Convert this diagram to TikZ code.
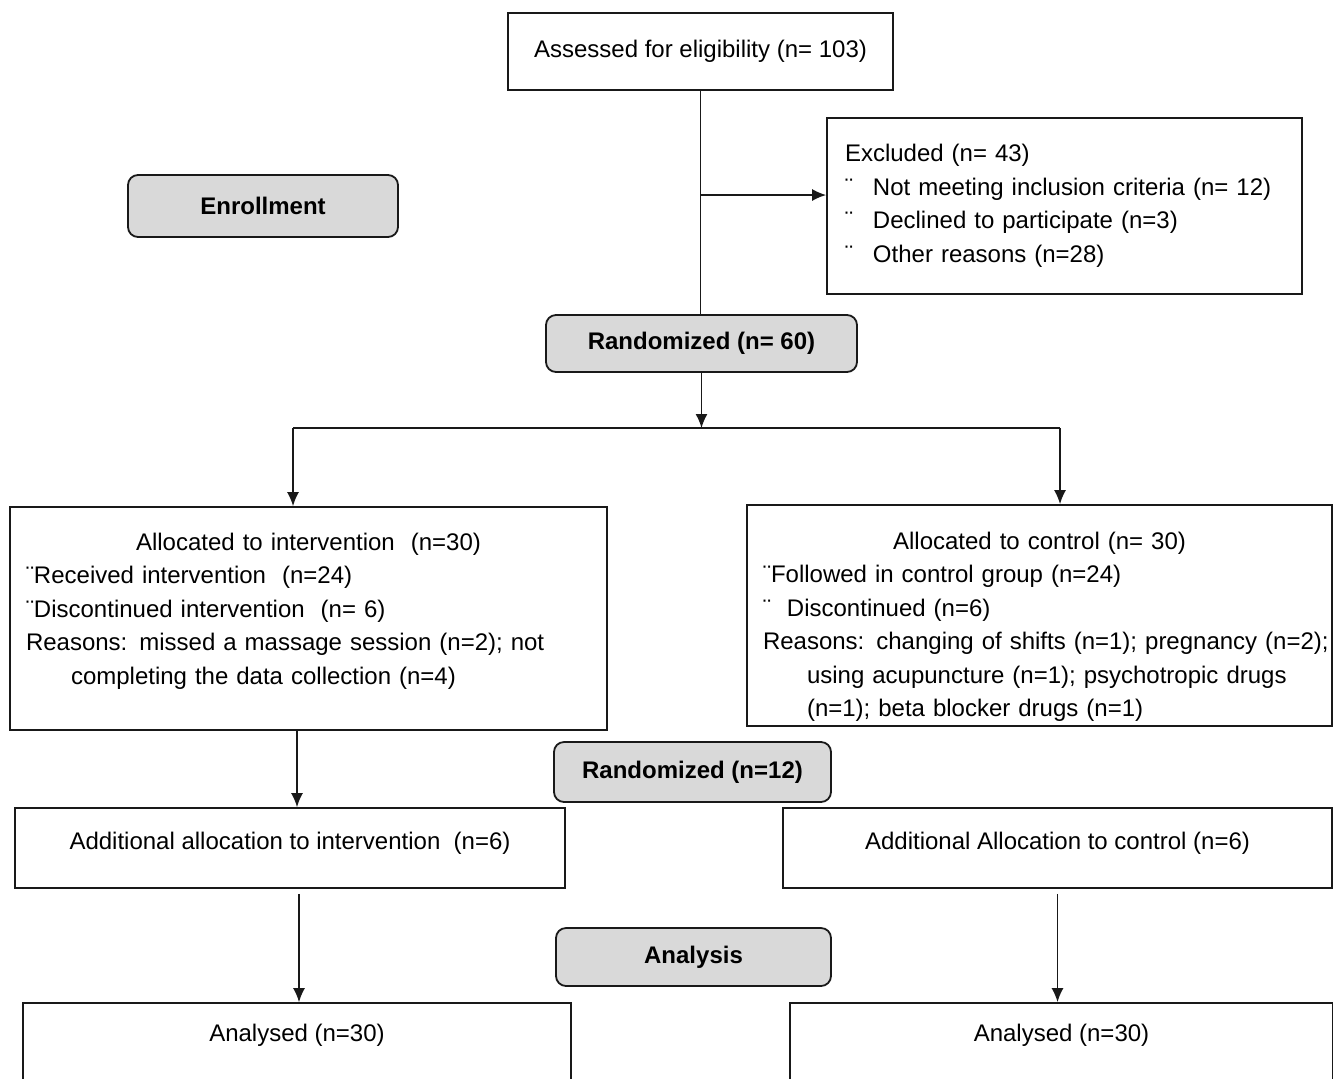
\documentclass[tikz,border=0pt]{standalone}
\usepackage{fontspec}
\setmainfont{Liberation Sans}
\usetikzlibrary{arrows.meta}
\definecolor{stagegray}{RGB}{217,217,217}
\definecolor{boxblack}{RGB}{25,25,25}

\begin{document}
\begin{tikzpicture}[x=0.5pt, y=-0.5pt,
    font=\fontsize{12}{16.75}\selectfont,
    flowbox/.style={draw=boxblack, line width=0.9pt, inner xsep=8pt, inner ysep=0pt},
    stagebox/.style={draw=boxblack, line width=0.9pt, rounded corners=5pt, fill=stagegray, font=\fontsize{12}{14}\selectfont\bfseries},
    flowline/.style={boxblack, line width=0.75pt},
    flowarrow/.style={flowline, -{Latex[length=7pt,width=6pt]}}]
    \useasboundingbox (0,0) rectangle (1333,1078);

    % Enrollment
    \node[flowbox, minimum width=192.5pt, minimum height=38.5pt] (assess) at (700.5,51.5) {Assessed for eligibility (n= 103)};
    \node[flowbox, inner xsep=9pt, text width=219.5pt, minimum height=88pt, align=left] (excl) at (1064.5,206)
        {Excluded (n= 43)\\
         \makebox[14pt][l]{¨}Not meeting inclusion criteria (n= 12)\\
         \makebox[14pt][l]{¨}Declined to participate (n=3)\\
         \makebox[14pt][l]{¨}Other reasons (n=28)};
    \node[stagebox, minimum width=135pt, minimum height=31pt] (enroll) at (263,206) {Enrollment};
    \node[stagebox, minimum width=155.5pt, minimum height=28.5pt] (rand60) at (701.5,343.5) {Randomized (n= 60)};

    % Allocation
    \node[flowbox, text width=282.5pt, minimum height=111.5pt, align=left] (allocL) at (308.5,618.5)
        {\makebox[\hsize]{Allocated to intervention\ \ (n=30)}\\
         ¨Received intervention\ \ (n=24)\\
         ¨Discontinued intervention\ \ (n= 6)\\
         Reasons: missed a massage session (n=2); not\\
         \hspace*{22.5pt}completing the data collection (n=4)\rule[-10pt]{0pt}{10pt}};
    \node[flowbox, inner xsep=8pt, text width=276.5pt, minimum height=110.5pt, align=left] (allocR) at (1039.5,615.5)
        {\rule{0pt}{20pt}\makebox[\hsize]{Allocated to control (n= 30)}\\
         ¨Followed in control group (n=24)\\
         ¨\ \ Discontinued (n=6)\\
         \mbox{Reasons: changing of shifts (n=1); pregnancy (n=2);}\\
         \hspace*{22pt}using acupuncture (n=1); psychotropic drugs\\
         \hspace*{22pt}(n=1); beta blocker drugs (n=1)};
    \node[stagebox, minimum width=138.5pt, minimum height=30pt] (rand12) at (692.5,772) {Randomized (n=12)};
    \node[flowbox, minimum width=275pt, minimum height=40pt, text depth=7.6pt] (addL) at (290,848) {Additional allocation to intervention\ \ (n=6)};
    \node[flowbox, minimum width=274.5pt, minimum height=40pt, text depth=7.6pt] (addR) at (1057.5,848) {Additional Allocation to control (n=6)};

    % Analysis
    \node[stagebox, minimum width=137.5pt, minimum height=29pt] (analysis) at (693.5,957) {Analysis};
    \node[flowbox, minimum width=274pt, minimum height=40pt, text depth=10.6pt] (anaL) at (297,1043) {Analysed (n=30)};
    \node[flowbox, minimum width=271.5pt, minimum height=40pt, text depth=10.6pt] (anaR) at (1061.5,1043) {Analysed (n=30)};

    % Connectors
    \coordinate (exclbranch) at (700.5,195);
    \coordinate (split) at (700.5,428);
    \coordinate (splitL) at (293,428);
    \coordinate (splitR) at (1060,428);
    \draw[flowline] (assess.south) -- (assess.south |- rand60.north);
    \draw[flowarrow] (exclbranch) -- (exclbranch -| excl.west);
    \draw[flowarrow] (rand60.south) -- (rand60.south |- split);
    \draw[flowline] (splitL) -- (splitR);
    \draw[flowarrow] (splitL) -- (splitL |- allocL.north);
    \draw[flowarrow] (splitR) -- (splitR |- allocR.north);
    \draw[flowarrow] ([xshift=-5.75pt]allocL.south) -- ([xshift=-5.75pt]allocL.south |- addL.north);
    \draw[flowarrow] ([shift={(4.5pt,-2.5pt)}]addL.south) -- ([xshift=4.5pt]addL.south |- anaL.north);
    \draw[flowarrow] ([yshift=-2.5pt]addR.south) -- (addR.south |- anaR.north);
\end{tikzpicture}
\end{document}
